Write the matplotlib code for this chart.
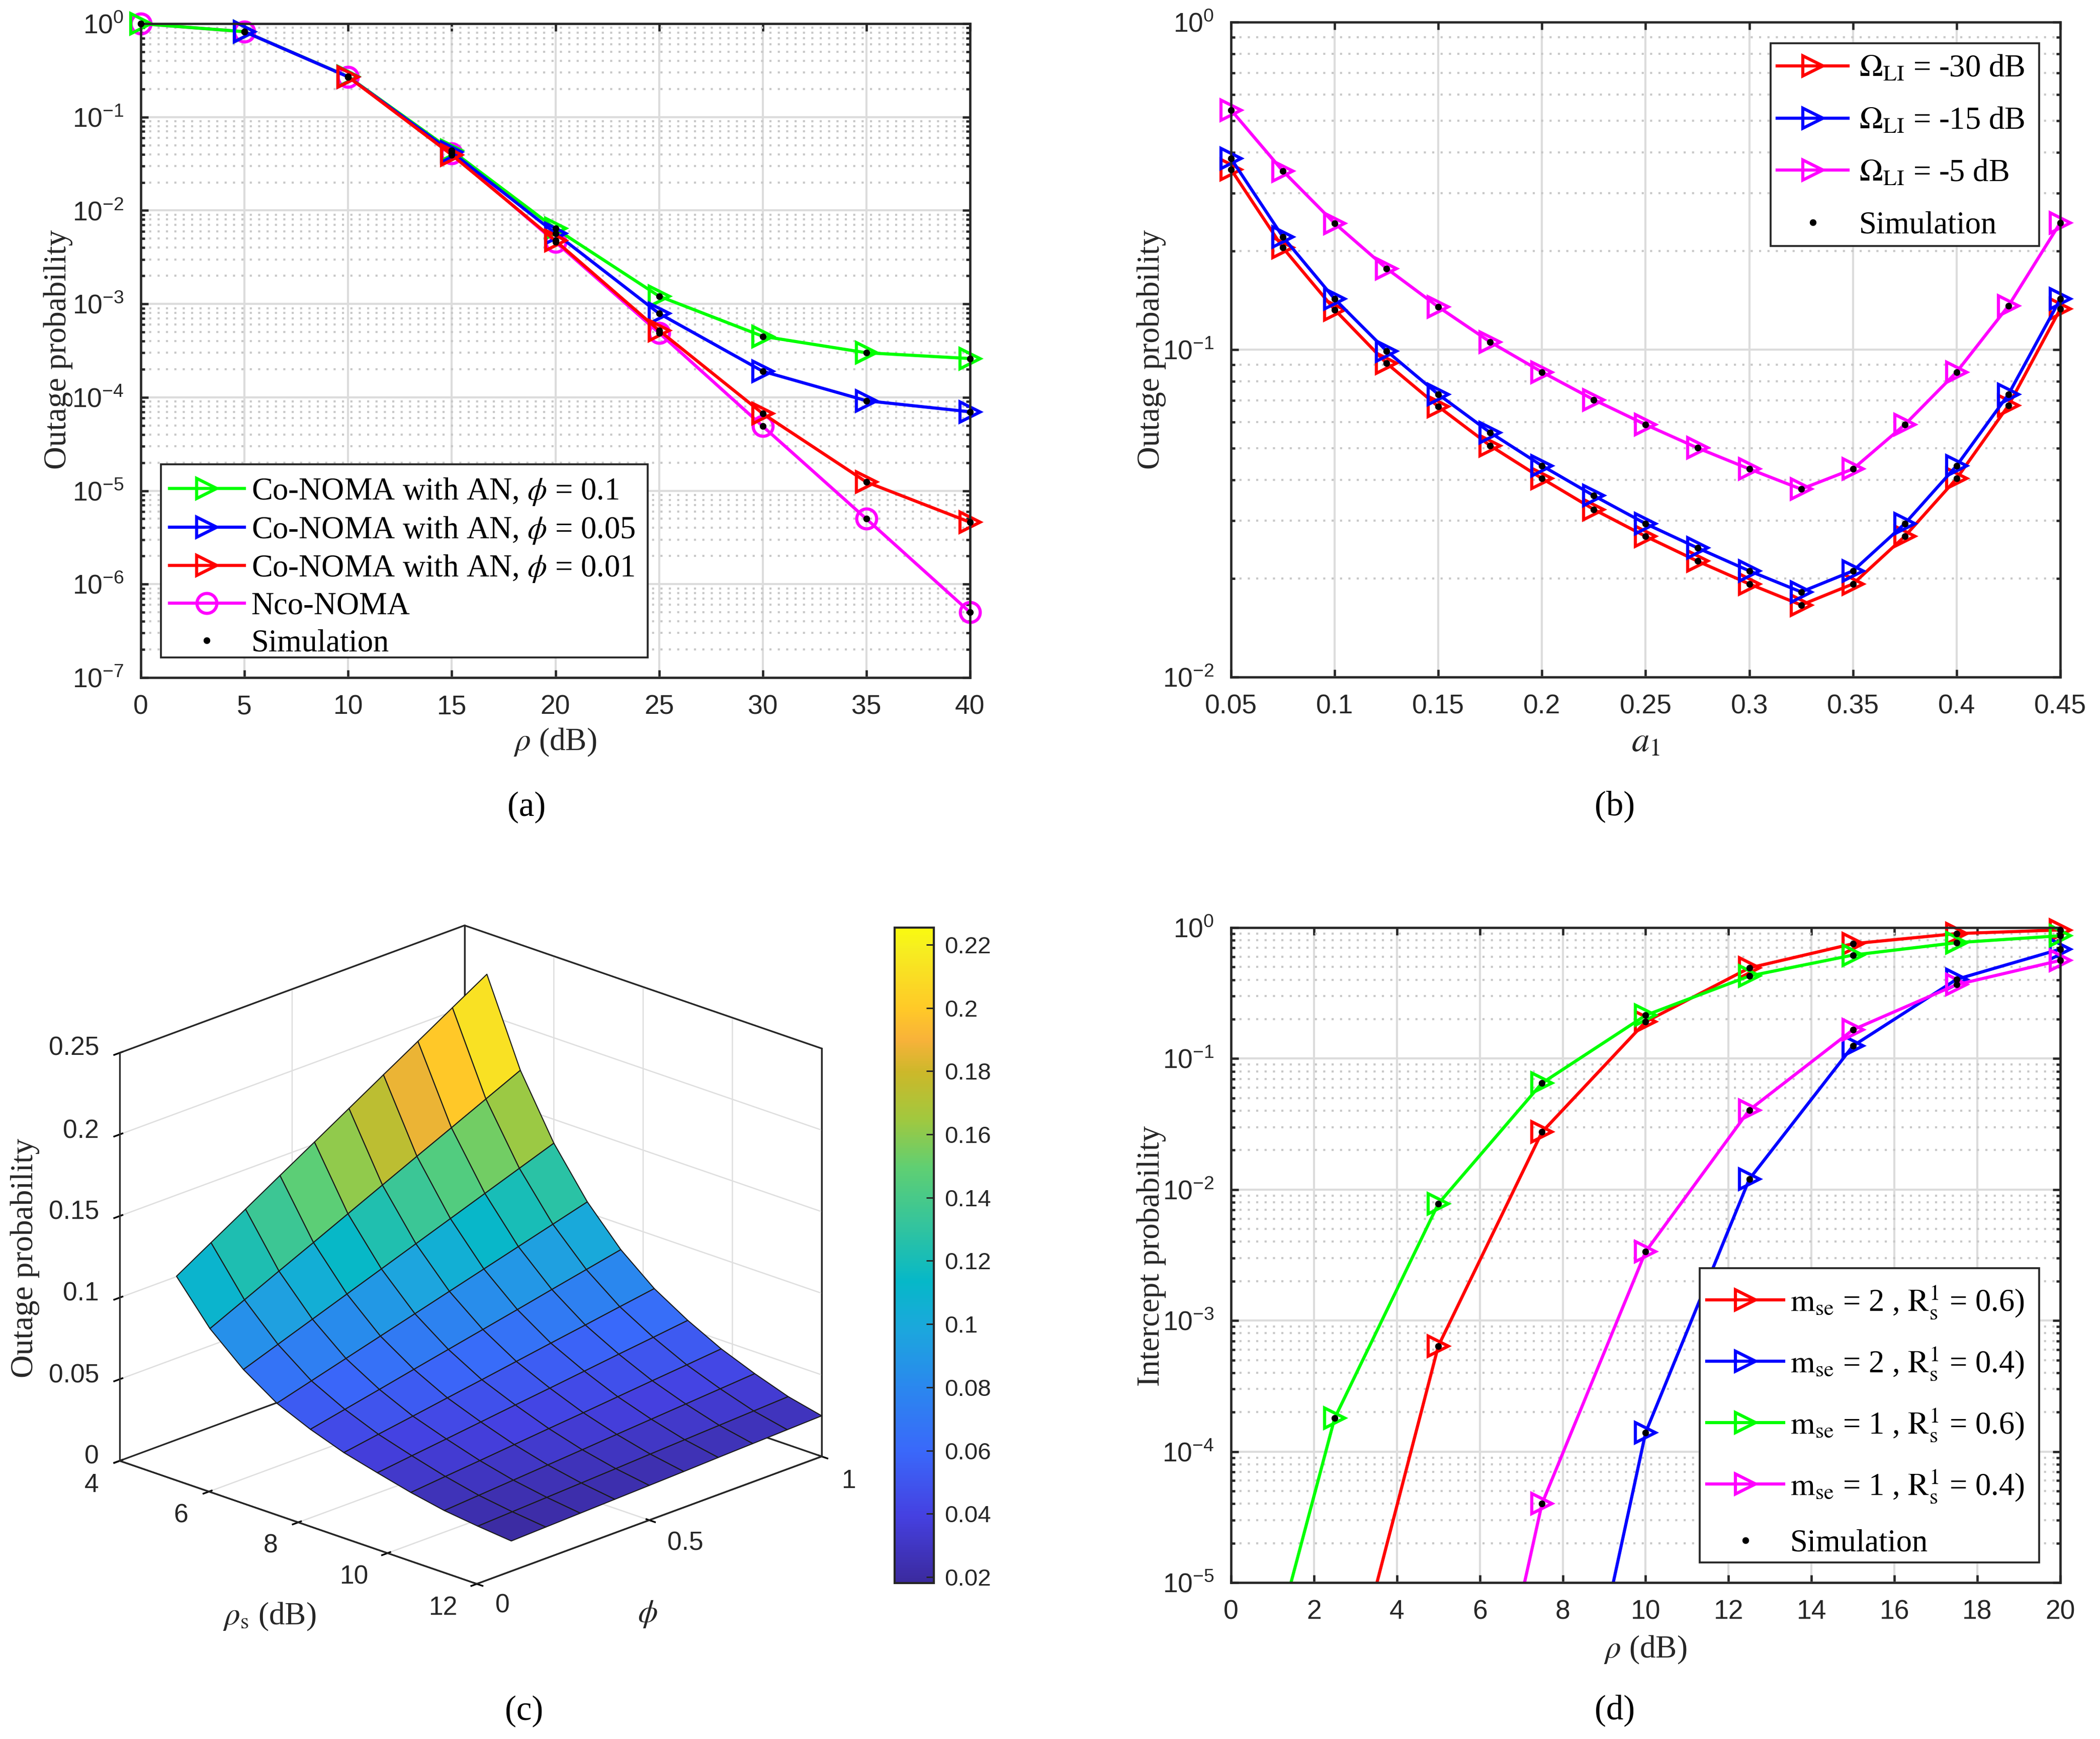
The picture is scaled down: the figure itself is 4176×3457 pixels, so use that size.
import numpy as np
import matplotlib
matplotlib.use("Agg")
import matplotlib.pyplot as plt
from matplotlib.colors import LinearSegmentedColormap, Normalize
from matplotlib.cm import ScalarMappable
from matplotlib.lines import Line2D
from matplotlib.patches import Rectangle
from matplotlib.ticker import LogLocator, NullFormatter
from mpl_toolkits.mplot3d import proj3d

W, H = 4176, 3457
SERIF = ["Liberation Serif", "DejaVu Serif"]
SANS = ["Liberation Sans", "DejaVu Sans"]
plt.rcParams["font.family"] = SANS
plt.rcParams["mathtext.fontset"] = "stix"

RED, BLUE, GREEN, MAGENTA = "#ff0000", "#0000ff", "#00ff00", "#ff00ff"
DARK = "#262626"

# panel (a)
rho_a = [0, 5, 10, 15, 20, 25, 30, 35, 40]
a_green = [1.0, 0.82, 0.271, 0.0437, 0.0064, 1.21e-3, 4.5e-4, 3.0e-4, 2.6e-4]
a_blue = [0.82, 0.27, 0.0421, 0.0057, 7.9e-4, 1.9e-4, 9.2e-5, 7.0e-5]
a_red = [0.27, 0.0394, 0.00475, 5.2e-4, 6.7e-5, 1.24e-5, 4.6e-6]
a_magenta = [1.0, 0.82, 0.27, 0.041, 0.0046, 4.9e-4, 4.9e-5, 5.0e-6, 5.0e-7]

# panel (b)
a1 = [0.05, 0.075, 0.1, 0.125, 0.15, 0.175, 0.2, 0.225, 0.25, 0.275, 0.3, 0.325, 0.35, 0.375, 0.4, 0.425, 0.45]
b_red = [0.355, 0.2047, 0.1324, 0.0909, 0.067, 0.0509, 0.0404, 0.0325, 0.0269, 0.0226, 0.01925, 0.0166, 0.01925, 0.0269, 0.0404, 0.0675, 0.133]
b_blue = [0.383, 0.221, 0.1427, 0.0991, 0.073, 0.0558, 0.0442, 0.0358, 0.0294, 0.0248, 0.0211, 0.0182, 0.0211, 0.0294, 0.0442, 0.073, 0.1427]
b_magenta = [0.539, 0.351, 0.243, 0.177, 0.135, 0.1055, 0.0854, 0.0703, 0.059, 0.0501, 0.0432, 0.0375, 0.0432, 0.059, 0.0854, 0.136, 0.244]

# panel (c)
rho_s = [4.5, 5.25, 6, 6.75, 7.5, 8.25, 9, 9.75, 10.5, 11.25, 12]
phi = [0.1, 0.2, 0.3, 0.4, 0.5, 0.6, 0.7, 0.8, 0.9, 1.0]
c_outage = [
    [.1100, .1228, .1355, .1483, .1610, .1738, .1866, .1993, .2121, .2248],
    [.0850, .0948, .1046, .1143, .1241, .1339, .1437, .1534, .1632, .1730],
    [.0670, .0746, .0822, .0898, .0974, .1050, .1126, .1202, .1278, .1354],
    [.0534, .0593, .0652, .0711, .0770, .0829, .0888, .0947, .1006, .1065],
    [.0445, .0489, .0533, .0578, .0622, .0666, .0710, .0755, .0799, .0843],
    [.0373, .0407, .0440, .0474, .0507, .0541, .0575, .0608, .0642, .0675],
    [.0320, .0346, .0371, .0397, .0423, .0448, .0474, .0500, .0525, .0551],
    [.0270, .0290, .0309, .0329, .0349, .0368, .0388, .0408, .0427, .0447],
    [.0230, .0245, .0260, .0275, .0290, .0306, .0321, .0336, .0351, .0366],
    [.0205, .0215, .0225, .0235, .0245, .0256, .0266, .0276, .0286, .0296],
    [.0185, .0192, .0199, .0206, .0213, .0220, .0228, .0235, .0242, .0249],
]
cmap_stops = [
    (0.00, "#3b2a9e"), (0.10, "#4540e0"), (0.20, "#3a68fa"), (0.30, "#2a88ee"),
    (0.39, "#1ba8dc"), (0.46, "#06b8c8"), (0.54, "#30c3a0"), (0.635, "#60cf72"),
    (0.71, "#a2c83e"), (0.78, "#ccb82a"), (0.83, "#f8b23a"), (0.875, "#ffc828"),
    (0.97, "#f6ee20"), (1.00, "#fafa10"),
]
z_tick_labels = ["0", "0.05", "0.1", "0.15", "0.2", "0.25"]
rho_tick_labels = ["4", "6", "8", "10", "12"]
phi_tick_labels = ["0", "0.5", "1"]

# panel (d)
rho_d = [0, 2.5, 5, 7.5, 10, 12.5, 15, 17.5, 20]
d_red = [1e-9, 5.7e-7, 6.4e-4, 0.0275, 0.191, 0.492, 0.753, 0.90, 0.96]
d_blue = [1e-12, 1e-10, 1e-9, 3e-8, 1.4e-4, 0.012, 0.125, 0.403, 0.685]
d_green = [1.9e-7, 1.8e-4, 0.0078, 0.065, 0.214, 0.427, 0.617, 0.767, 0.867]
d_magenta = [1e-12, 1e-10, 1.07e-8, 4e-5, 0.00336, 0.0405, 0.166, 0.367, 0.562]

fig = plt.figure(figsize=(W / 300, H / 300), dpi=300, facecolor="white")


def add_axes_px(left, top, right, bottom):
    return fig.add_axes([left / W, 1 - bottom / H, (right - left) / W, (bottom - top) / H])


def text_px(x, y, s, **kw):
    kw.setdefault("family", SERIF)
    kw.setdefault("fontsize", 15.2)
    kw.setdefault("color", DARK)
    kw.setdefault("ha", "center")
    kw.setdefault("va", "center")
    fig.text(x / W, 1 - y / H, s, **kw)


def style_log(ax, xticks, xlabels, xlim, ylim):
    ax.set_yscale("log")
    ax.set_xlim(*xlim)
    ax.set_ylim(*ylim)
    ax.set_xticks(xticks)
    ax.set_xticklabels(xlabels)
    ax.yaxis.set_major_locator(LogLocator(base=10, numticks=12))
    ax.yaxis.set_minor_locator(LogLocator(base=10, subs=range(2, 10), numticks=12))
    ax.yaxis.set_minor_formatter(NullFormatter())
    ax.set_axisbelow(True)
    ax.grid(which="major", color="#dcdcdc", lw=1.0)
    ax.grid(which="minor", axis="y", color="#c8c8c8", lw=1.0, ls=(0, (1, 3)))
    ax.tick_params(which="both", direction="in", top=True, right=True, color=DARK, width=1.1,
                   labelcolor=DARK, labelsize=12.8)
    ax.tick_params(which="major", length=3.6, pad=8)
    ax.tick_params(which="minor", length=1.9)
    for s in ax.spines.values():
        s.set_linewidth(1.1)
        s.set_color(DARK)


def draw_curve(ax, x, y, color, marker=">", ylim=(0, 1)):
    x = np.array(x, float)
    y = np.array(y, float)
    ax.plot(x, y, color=color, lw=1.5)
    inside = (y >= ylim[0]) & (y <= ylim[1])
    ax.plot(x[inside], y[inside], ls="none", marker=marker, ms=9.5, mfc="none", mec=color, mew=1.5, clip_on=False)
    ax.plot(x[inside], y[inside], ls="none", marker="o", ms=2.2, color="black", clip_on=False, zorder=6)


def make_legend(ax, labels, colors, markers, box, left, top, **kw):
    # frame drawn apart from the entries so both can sit where the reference has them
    bl, bt, br, bb = box
    ax.add_patch(Rectangle((bl / W, 1 - bb / H), (br - bl) / W, (bb - bt) / H, transform=fig.transFigure,
                           fc="white", ec=DARK, lw=0.9, zorder=19, clip_on=False))
    handles = [Line2D([], [], color=c, lw=1.5, marker=m, ms=9.5, mfc="none", mew=1.5) for c, m in zip(colors, markers)]
    handles.append(Line2D([], [], ls="none", marker="o", ms=2.2, color="black"))
    leg = ax.legend(handles, labels + ["Simulation"], loc="upper left", bbox_to_anchor=(left / W, 1 - top / H),
                    bbox_transform=fig.transFigure, borderaxespad=0, borderpad=0, frameon=False, numpoints=1,
                    prop={"family": SERIF, "size": 15}, **kw)
    leg.set_zorder(20)
    return leg


# (a)
ax_a = add_axes_px(280, 47, 1929, 1347)
style_log(ax_a, rho_a, [str(v) for v in rho_a], (0, 40), (1e-7, 1))
lim_a = (1e-7, 1.01)
draw_curve(ax_a, rho_a, a_magenta, MAGENTA, "o", lim_a)
draw_curve(ax_a, rho_a, a_green, GREEN, ">", lim_a)
draw_curve(ax_a, rho_a[1:], a_blue, BLUE, ">", lim_a)
draw_curve(ax_a, rho_a[2:], a_red, RED, ">", lim_a)
make_legend(ax_a, ["Co-NOMA with AN, $\\phi$ = 0.1", "Co-NOMA with AN, $\\phi$ = 0.05",
                   "Co-NOMA with AN, $\\phi$ = 0.01", "Nco-NOMA"],
            [GREEN, BLUE, RED, MAGENTA], [">", ">", ">", "o"], (320, 923, 1288, 1307), 337, 947,
            labelspacing=0.25, handlelength=2.38, handletextpad=0.22)
text_px(116, 695, "Outage probability", rotation=90)
text_px(1104, 1476, "$\\rho$ (dB)")
text_px(1047, 1605, "(a)", fontsize=16.5, color="black")

# (b)
ax_b = add_axes_px(2448, 44, 4097, 1346)
style_log(ax_b, a1[::2], ["0.05", "0.1", "0.15", "0.2", "0.25", "0.3", "0.35", "0.4", "0.45"], (0.05, 0.45), (1e-2, 1))
lim_b = (1e-2, 1)
draw_curve(ax_b, a1, b_red, RED, ">", lim_b)
draw_curve(ax_b, a1, b_blue, BLUE, ">", lim_b)
draw_curve(ax_b, a1, b_magenta, MAGENTA, ">", lim_b)
make_legend(ax_b, ["$\\mathrm{\\Omega_{LI}}$ = -30 dB", "$\\mathrm{\\Omega_{LI}}$ = -15 dB", "$\\mathrm{\\Omega_{LI}}$ = -5 dB"],
            [RED, BLUE, MAGENTA], [">", ">", ">"], (3521, 86, 4055, 489), 3534, 109,
            labelspacing=0.73, handlelength=2.26, handletextpad=0.35)
text_px(2290, 695, "Outage probability", rotation=90)
text_px(3272, 1476, "$a_1$", fontsize=17)
text_px(3211, 1603, "(b)", fontsize=16.5, color="black")

# (d)
ax_d = add_axes_px(2448, 1844, 4097, 3146)
style_log(ax_d, list(range(0, 21, 2)), [str(v) for v in range(0, 21, 2)], (0, 20), (1e-5, 1))
lim_d = (1e-5, 1.01)
draw_curve(ax_d, rho_d, d_red, RED, ">", lim_d)
draw_curve(ax_d, rho_d, d_blue, BLUE, ">", lim_d)
draw_curve(ax_d, rho_d, d_green, GREEN, ">", lim_d)
draw_curve(ax_d, rho_d, d_magenta, MAGENTA, ">", lim_d)
make_legend(ax_d, ["$\\mathrm{m_{se}}$ = 2 , $\\mathrm{R_s^1}$ = 0.6)", "$\\mathrm{m_{se}}$ = 2 , $\\mathrm{R_s^1}$ = 0.4)",
                   "$\\mathrm{m_{se}}$ = 1 , $\\mathrm{R_s^1}$ = 0.6)", "$\\mathrm{m_{se}}$ = 1 , $\\mathrm{R_s^1}$ = 0.4)"],
            [RED, BLUE, GREEN, MAGENTA], [">", ">", ">", ">"], (3380, 2521, 4055, 3106), 3394, 2552,
            labelspacing=0.79, handlelength=2.45, handletextpad=0.2)
text_px(2290, 2497, "Intercept probability", rotation=90)
text_px(3272, 3280, "$\\rho$ (dB)")
text_px(3211, 3400, "(d)", fontsize=16.5, color="black")

# (c)
cmap = LinearSegmentedColormap.from_list("parula_like", cmap_stops, N=256)
norm = Normalize(0.0181, 0.2254)
ax_c = fig.add_axes([0.1, 0.1, 1500 / W, 1500 / H], projection="3d", proj_type="ortho", computed_zorder=False)
ax_c.patch.set_visible(False)
x0, x1, y0, y1, z0, z1 = 4, 12, 0, 1, 0, 0.25
ax_c.set_xlim(x0, x1)
ax_c.set_ylim(y0, y1)
ax_c.set_zlim(z0, z1)
ax_c.view_init(elev=20.9, azim=-46)
ax_c.set_box_aspect((986, 986, 867))
R, P = np.meshgrid(rho_s, phi, indexing="ij")
Z = np.array(c_outage)
# each face takes the colour of its first corner, as the reference does
surf = ax_c.plot_surface(R, P, Z, facecolors=cmap(norm(Z)), rstride=1, cstride=1, linewidth=0.5, shade=False, zorder=3)
surf.set_edgecolor("#1a1a1a")
ax_c.set_xticks([int(v) for v in rho_tick_labels])
ax_c.set_yticks([float(v) for v in phi_tick_labels])
ax_c.set_zticks([float(v) for v in z_tick_labels])
ax_c.zaxis.set_ticks_position("lower")
for axis in (ax_c.xaxis, ax_c.yaxis, ax_c.zaxis):
    axis.set_major_formatter(NullFormatter())
    axis.set_pane_color((1, 1, 1, 1))
    axis.pane.set_edgecolor(DARK)
    axis.pane.set_linewidth(0.7)
    axis.line.set_color(DARK)
    axis.line.set_linewidth(0.7)
    axis._axinfo["grid"].update(color="#dedede", linewidth=0.6)
    axis._axinfo["tick"].update(color=DARK)

# the cube edges go over the grid lines that end on them, under the surface
for xs, ys, zs in [([x0, x0, x1], [y0, y1, y1], [z1, z1, z1]),
                   ([x0, x0, x1], [y0, y1, y1], [z0, z0, z0]),
                   ([x0, x1, x1], [y0, y0, y1], [z0, z0, z0]),
                   ([x0, x0], [y0, y0], [z0, z1]),
                   ([x0, x0], [y1, y1], [z0, z1]),
                   ([x1, x1], [y1, y1], [z0, z1])]:
    ax_c.plot(xs, ys, zs, color=DARK, lw=0.75, zorder=2)


def corner_px(x, y, z):
    ax_c.apply_aspect()
    xs, ys, _ = proj3d.proj_transform(x, y, z, ax_c.get_proj())
    return ax_c.transData.transform((xs, ys))


# size and place the cube so its corners land on the reference
span = corner_px(12, 1, 0)[0] - corner_px(4, 0, 0)[0]
size = 1500 * (1634 - 238) / span
ax_c.set_position([0.1, 0.1, size / W, size / H])
lc = corner_px(4, 0, 0)
ax_c.set_position([0.1 + (238 - lc[0]) / W, 0.1 + (H - 2904 - lc[1]) / H, size / W, size / H])

# tick labels of the cube
for label, y in zip(z_tick_labels, [2896, 2735, 2572, 2410, 2249, 2084]):
    text_px(197, y, label, family=SANS, fontsize=12.4, ha="right")
for label, x, y in zip(rho_tick_labels, [182, 360, 538, 704, 881], [2953, 3013, 3073, 3135, 3196]):
    text_px(x, y, label, family=SANS, fontsize=12.4)
for label, x, y in zip(phi_tick_labels, [999, 1363, 1687], [3192, 3068, 2944]):
    text_px(x, y, label, family=SANS, fontsize=12.4)

# colorbar
cax = add_axes_px(1779, 1844, 1857, 3147)
cb = fig.colorbar(ScalarMappable(norm=norm, cmap=cmap), cax=cax)
cb.set_ticks([0.02, 0.04, 0.06, 0.08, 0.1, 0.12, 0.14, 0.16, 0.18, 0.2, 0.22])
cb.set_ticklabels(["0.02", "0.04", "0.06", "0.08", "0.1", "0.12", "0.14", "0.16", "0.18", "0.2", "0.22"])
cb.ax.tick_params(direction="in", length=3.6, width=0.7, color=DARK, labelcolor=DARK, labelsize=11.4, pad=5)
cb.outline.set_edgecolor(DARK)
cb.outline.set_linewidth(1.0)

text_px(50, 2501, "Outage probability", rotation=90)
text_px(536, 3214, "$\\rho_{\\mathrm{s}}$ (dB)")
text_px(1288, 3209, "$\\phi$")
text_px(1042, 3402, "(c)", fontsize=16.5, color="black")

fig.savefig("out.png", dpi=300)
